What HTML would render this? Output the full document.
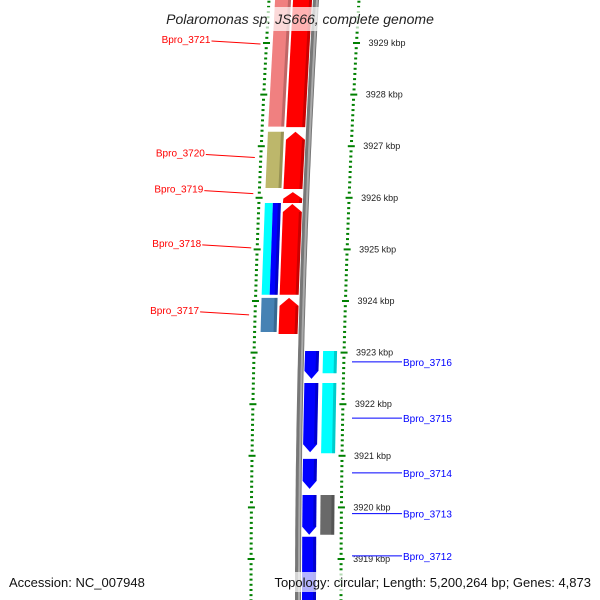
<!DOCTYPE html>
<html><head><meta charset="utf-8">
<style>
html,body{margin:0;padding:0;background:#fff;}
svg{display:block;font-family:"Liberation Sans","DejaVu Sans",sans-serif;}
</style></head>
<body>
<svg id="chart" width="600" height="600" viewBox="0 0 600 600" xmlns="http://www.w3.org/2000/svg">
<g id="ticks"></g>
<g id="backbone"></g>
<g id="genes"></g>
<g id="labels"></g>
<rect x="152" y="7" width="296" height="24" fill="#fff" fill-opacity="0.7"/>
<text x="300" y="24" text-anchor="middle" font-size="14" font-style="italic" fill="#222">Polaromonas sp. JS666, complete genome</text>
<rect x="4" y="572" width="150" height="20" fill="#fff" fill-opacity="0.7"/>
<text x="9" y="587" font-size="13" fill="#111">Accession: NC_007948</text>
<rect x="258" y="572" width="338" height="20" fill="#fff" fill-opacity="0.7"/>
<text x="591" y="587" text-anchor="end" font-size="13" fill="#111">Topology: circular; Length: 5,200,264 bp; Genes: 4,873</text>
</svg>
<script>
// scale data
const tickKbp = [3919,3920,3921,3922,3923,3924,3925,3926,3927,3928,3929];
const minorStartKbp = 3918.1;
const minorEndKbp = 3929.9;
// genes: names, starts/ends (kbp), strand, track (0 inner, 1 outer), colors
const geneNames = ["Bpro_3721","Bpro_3721","Bpro_3720","Bpro_3720","Bpro_3719","Bpro_3718","Bpro_3718a","Bpro_3718b","Bpro_3717","Bpro_3717",
                   "Bpro_3716","Bpro_3716","Bpro_3715","Bpro_3715","Bpro_3714","Bpro_3713","Bpro_3713","Bpro_3712","Bpro_3711"];
const geneStart = [3927.37,3927.38,3926.17,3926.19,3925.90,3924.12,3924.12,3924.12,3923.36,3923.40,
                   3922.49,3922.60,3921.07,3921.05,3920.36,3919.47,3919.47,3918.20,3917.9];
const geneEnd   = [3930.0,3930.0,3927.28,3927.28,3926.11,3925.88,3925.90,3925.90,3924.06,3924.06,
                   3923.03,3923.03,3922.41,3922.41,3920.94,3920.24,3920.24,3919.43,3918.10];
const geneStrand = [1,1,1,1,1,1,1,1,1,1,-1,-1,-1,-1,-1,-1,-1,-1,-1];
const geneTrack  = [0,1,0,1,0,0,1,1,0,1,0,1,0,1,0,0,1,0,0];
const geneArrow  = [0,0,1,0,1,1,0,0,1,0,1,0,1,0,1,1,0,0,0];
const geneColor  = ["#ff0000","#f08080","#ff0000","#bdb76b","#ff0000","#ff0000","#00ffff","#0000ff","#ff0000","#4682b4",
                    "#0000ff","#00ffff","#0000ff","#00ffff","#0000ff","#0000ff","#696969","#0000ff","#0000ff"];
// labels
const labelNames  = ["Bpro_3721","Bpro_3720","Bpro_3719","Bpro_3718","Bpro_3717","Bpro_3716","Bpro_3715","Bpro_3714","Bpro_3713","Bpro_3712"];
const labelKbp    = [3929.0,3926.8,3926.1,3925.05,3923.75,3922.82,3921.73,3920.67,3919.88,3919.06];
const labelStrand = [1,1,1,1,1,-1,-1,-1,-1,-1];

const NS="http://www.w3.org/2000/svg";
function yOf(k){return 43+(3929-k)*51.6;}
function bx(y){return 298+5e-5*(y-600)*(y-600);}
function mk(t,a,p){const e=document.createElementNS(NS,t);for(const k in a)e.setAttribute(k,a[k]);p.appendChild(e);return e;}

// ticks
const tg=document.getElementById('ticks');
for(let i=Math.round(minorStartKbp*10);i<=Math.round(minorEndKbp*10);i++){
  const k=i/10,y=yOf(k),major=(i%10===0);
  const w=major?7:3;
  const xl=bx(y)-47, xr=bx(y)+43;
  let l=mk('rect',{x:xl-w/2,y:y-1,width:w,height:2,fill:'#008000'},tg);
  
  
  let r=mk('rect',{x:xr-w/2,y:y-1,width:w,height:2,fill:'#008000'},tg);
  
  
}
tickKbp.forEach(k=>{
  const y=yOf(k);
  const t=mk('text',{x:bx(y)+55,y:y+3,'font-size':'9',fill:'#222'},tg);
  
  
  t.textContent=k+' kbp';
});

// backbone
const bg=document.getElementById('backbone');
let pts=[];for(let y=-5;y<=605;y+=5)pts.push([bx(y),y]);
const dpath=pts.map((p,i)=>(i?'L':'M')+p[0].toFixed(1)+' '+p[1]).join(' ');
let b1=mk('path',{d:dpath,stroke:'#777',"stroke-width":6,fill:'none'},bg);


let b2=mk('path',{d:dpath,stroke:'#aaa',"stroke-width":2,fill:'none',transform:'translate(1,0)'},bg);



// genes
const gg=document.getElementById('genes');
geneNames.forEach((n,i)=>{
  const yT=yOf(geneEnd[i]), yB=yOf(geneStart[i]);
  const s=geneStrand[i], tr=geneTrack[i];
  let o1,o2;
  if(s>0){ if(tr===0){o1=-23;o2=-4;} else {o1=-41;o2=-25;} }
  else { if(tr===0){o1=4;o2=18;} else {o1=22;o2=36;} }
  const xT1=bx(yT)+o1,xT2=bx(yT)+o2,xB1=bx(yB)+o1,xB2=bx(yB)+o2;
  let d;
  const ah=Math.min(8,(yB-yT)*0.6);
  if(geneArrow[i]&&s>0){
    d=`M${xB1} ${yB} L${xT1} ${yT+ah} L${(xT1+xT2)/2} ${yT} L${xT2} ${yT+ah} L${xB2} ${yB} Z`;
  } else if(geneArrow[i]&&s<0){
    d=`M${xT1} ${yT} L${xB1} ${yB-ah} L${(xB1+xB2)/2} ${yB} L${xB2} ${yB-ah} L${xT2} ${yT} Z`;
  } else d=`M${xT1} ${yT} L${xB1} ${yB} L${xB2} ${yB} L${xT2} ${yT} Z`;
  let p;
  if(n==="Bpro_3718a"||n==="Bpro_3718b"){
    const half=(o2-o1)/2, a=n==="Bpro_3718a"?o1:o1+half, b=a+half;
    d=`M${bx(yT)+a} ${yT} L${bx(yB)+a} ${yB} L${bx(yB)+b} ${yB} L${bx(yT)+b} ${yT} Z`;
  }
  p=mk('path',{d:d,fill:geneColor[i]},gg);
  
  
  let sh=mk('path',{d:`M${xT2-3} ${yT+ (geneArrow[i]&&s>0?ah:0)} L${xB2-3} ${yB-(geneArrow[i]&&s<0?ah:0)} L${xB2} ${yB-(geneArrow[i]&&s<0?ah:0)} L${xT2} ${yT+(geneArrow[i]&&s>0?ah:0)} Z`,fill:'#000','fill-opacity':0.2},gg);
  
  
});

// labels
const lg=document.getElementById('labels');
labelNames.forEach((n,i)=>{
  const y=yOf(labelKbp[i]);
  if(labelStrand[i]>0){
    const xe=bx(y)-53;
    let ln=mk('line',{x1:xe-49,y1:y-2,x2:xe,y2:y+1,stroke:'#ff0000','stroke-width':1},lg);
    
    
    let t=mk('text',{x:xe-50,y:y,'text-anchor':'end','font-size':'10',fill:'#ff0000'},lg);
    
    
    t.textContent=n;
  } else {
    let ln=mk('line',{x1:352,y1:y,x2:402,y2:y,stroke:'#0000ff','stroke-width':1},lg);
    
    
    let t=mk('text',{x:403,y:y+4,'font-size':'10',fill:'#0000ff'},lg);
    
    
    t.textContent=n;
  }
});
</script>
</body></html>
